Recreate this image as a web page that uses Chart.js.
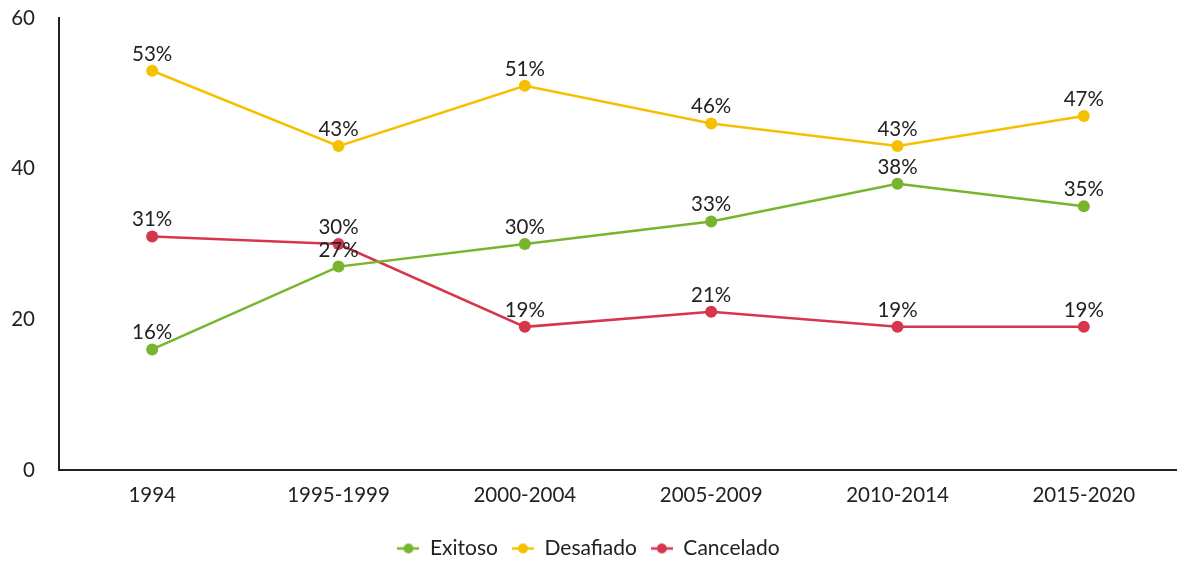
<!DOCTYPE html>
<html>
<head>
<meta charset="utf-8">
<script src="https://cdn.jsdelivr.net/npm/chart.js@4/dist/chart.umd.min.js"></script>
<style>
  html, body { margin: 0; padding: 0; background: #fff; }
  #wrap { width: 1177px; height: 562px; }
</style>
</head>
<body>
<div id="wrap"><canvas id="projectsChart" width="1177" height="562"></canvas></div>
<script>
var periods = ['1994', '1995-1999', '2000-2004', '2005-2009', '2010-2014', '2015-2020'];
var exitoso = [16, 27, 30, 33, 38, 35];
var desafiado = [53, 43, 51, 46, 43, 47];
var cancelado = [31, 30, 19, 21, 19, 19];
var yTicks = [0, 20, 40, 60];

var seriesNames = ['Exitoso', 'Desafiado', 'Cancelado'];
var seriesData = [exitoso, desafiado, cancelado];
var colors = ['#78b42e', '#f5c000', '#d6364b'];

makeLegendIcon = function (color) {
    var c = document.createElement('canvas');
    c.width = 22;
    c.height = 12;
    var g = c.getContext('2d');
    g.strokeStyle = color;
    g.lineWidth = 2.5;
    g.beginPath();
    g.moveTo(0, 6);
    g.lineTo(22, 6);
    g.stroke();
    g.fillStyle = color;
    g.beginPath();
    g.arc(11, 6, 5, 0, Math.PI * 2);
    g.fill();
    return c;
}

// draws the "53%" style labels above every point
var valueLabels = {
    id: 'valueLabels',
    afterDatasetsDraw: function (chart) {
        var ctx = chart.ctx;
        ctx.save();
        ctx.font = '20.5px Lato';
        ctx.fillStyle = '#222';
        ctx.textAlign = 'center';
        ctx.textBaseline = 'alphabetic';
        chart.data.datasets.forEach(function (ds, i) {
            var meta = chart.getDatasetMeta(i);
            meta.data.forEach(function (pt, j) {
                ctx.fillText(ds.data[j] + '%', pt.x, pt.y - 10);
            });
        });
        ctx.restore();
    }
};

var datasets = [];
for (var i = 0; i < seriesNames.length; i++) {
    datasets.push({
        label: seriesNames[i],
        data: seriesData[i],
        borderColor: colors[i],
        backgroundColor: colors[i],
        borderWidth: 2.5,
        pointRadius: 6,
        pointHoverRadius: 6,
        pointBorderWidth: 0,
        pointStyle: 'circle',
        tension: 0,
        clip: false
    });
}

new Chart(document.getElementById('projectsChart'), {
    type: 'line',
    data: { labels: periods, datasets: datasets },
    plugins: [valueLabels],
    options: {
        responsive: false,
        animation: false,
        layout: { autoPadding: false, padding: { left: 0, top: 0, right: 0, bottom: -7 } },
        scales: {
            x: {
                offset: true,
                grid: { display: false, drawTicks: false },
                border: { color: '#222', width: 2 },
                ticks: { color: '#222', font: { family: 'Lato', size: 20.5 }, padding: 13 },
                afterFit: function (axis) {
                    axis.height = 54;
                    axis.paddingLeft = 0;
                    axis.paddingRight = 0;
                }
            },
            y: {
                min: 0,
                max: 60,
                afterBuildTicks: function (axis) {
                    axis.ticks = yTicks.map(function (v) { return { value: v }; });
                },
                grid: { display: false, drawTicks: false },
                border: { color: '#222', width: 2 },
                ticks: { color: '#222', font: { family: 'Lato', size: 20.5 }, padding: 24 },
                afterFit: function (axis) {
                    axis.width = 59;
                    axis.paddingTop = 18;
                    axis.paddingBottom = 12;
                }
            }
        },
        plugins: {
            tooltip: { enabled: false },
            legend: {
                position: 'bottom',
                labels: {
                    color: '#222',
                    font: { family: 'Lato', size: 21 },
                    usePointStyle: true,
                    pointStyleWidth: 22,
                    boxHeight: 12,
                    padding: 14,
                    generateLabels: function (chart) {
                        return chart.data.datasets.map(function (ds, i) {
                            return {
                                text: ds.label,
                                pointStyle: makeLegendIcon(ds.borderColor),
                                fillStyle: ds.borderColor,
                                strokeStyle: ds.borderColor,
                                lineWidth: 0,
                                fontColor: '#222',
                                datasetIndex: i
                            };
                        });
                    }
                }
            }
        }
    }
});
</script>
</body>
</html>
